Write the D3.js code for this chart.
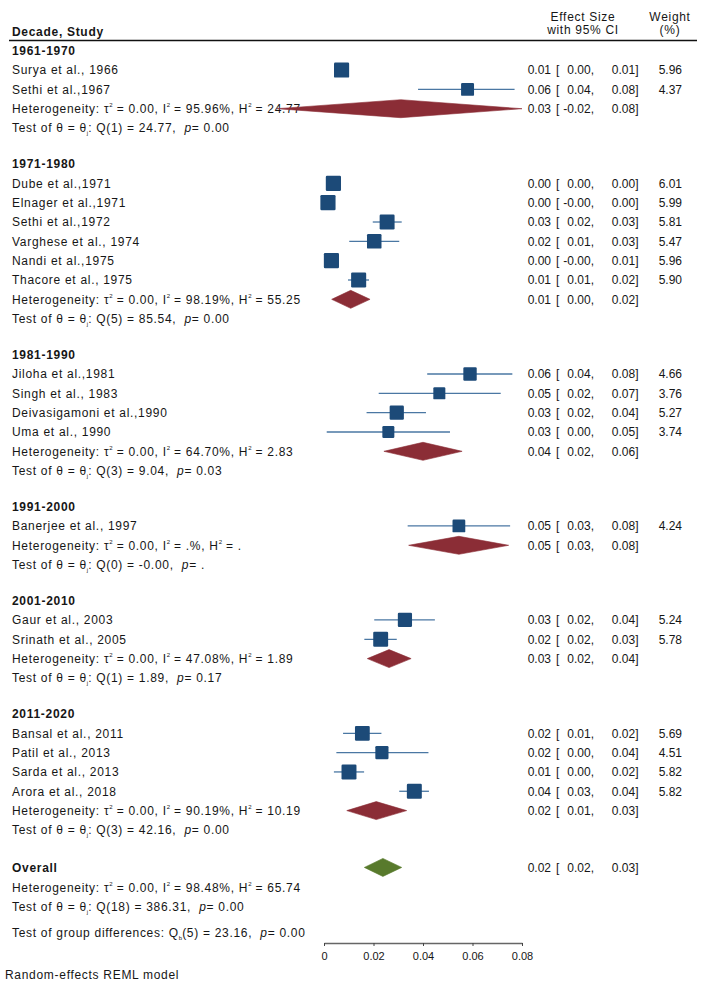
<!DOCTYPE html>
<html><head><meta charset="utf-8">
<script src="https://cdn.jsdelivr.net/npm/d3@7"></script>
<style>
body{margin:0;background:#fff}
svg{display:block}
text{font-family:"Liberation Sans",Arial,sans-serif;font-size:12px;fill:#161616;white-space:pre}
text.lbl{letter-spacing:0.7px}
</style>
</head><body>
<svg id="c" width="709" height="984"></svg>
<script>
// ---------- data ----------
const groups = ["1961-1970","1971-1980","1981-1990","1991-2000","2001-2010","2011-2020"];
const studies = ["Surya et al., 1966","Sethi et al.,1967",
  "Dube et al.,1971","Elnager et al.,1971","Sethi et al.,1972","Varghese et al., 1974","Nandi et al.,1975","Thacore et al., 1975",
  "Jiloha et al.,1981","Singh et al., 1983","Deivasigamoni et al.,1990","Uma et al., 1990",
  "Banerjee et al., 1997",
  "Gaur et al., 2003","Srinath et al., 2005",
  "Bansal et al., 2011","Patil et al., 2013","Sarda et al., 2013","Arora et al., 2018"];
const studyGroup = [0,0, 1,1,1,1,1,1, 2,2,2,2, 3, 4,4, 5,5,5,5];
const studyEst = [0.0071,0.058, 0.0038,0.0016,0.0255,0.0203,0.0030,0.0140, 0.0590,0.0466,0.0294,0.0260, 0.0545, 0.0327,0.0229, 0.0155,0.0234,0.0101,0.0365];
const studyLo  = [0.0045,0.038, 0.0020,0.0003,0.0197,0.0102,0.0015,0.0097, 0.0417,0.0221,0.0172,0.0011, 0.0338, 0.0203,0.0163, 0.0077,0.0050,0.0040,0.0304];
const studyHi  = [0.0095,0.077, 0.0055,0.0030,0.0314,0.0304,0.0045,0.0182, 0.0761,0.0714,0.0412,0.0509, 0.0752, 0.0448,0.0294, 0.0232,0.0422,0.0162,0.0424];
const studyWeight = ["5.96","4.37","6.01","5.99","5.81","5.47","5.96","5.90","4.66","3.76","5.27","3.74","4.24","5.24","5.78","5.69","4.51","5.82","5.82"];
const studyEstText = ["0.01","0.06","0.00","0.00","0.03","0.02","0.00","0.01","0.06","0.05","0.03","0.03","0.05","0.03","0.02","0.02","0.02","0.01","0.04"];
const studyLoText  = ["0.00","0.04","0.00","-0.00","0.02","0.01","-0.00","0.01","0.04","0.02","0.02","0.00","0.03","0.02","0.02","0.01","0.00","0.00","0.03"];
const studyHiText  = ["0.01","0.08","0.00","0.00","0.03","0.03","0.01","0.02","0.08","0.07","0.04","0.05","0.08","0.04","0.03","0.02","0.04","0.02","0.04"];

const groupEst = [0.031, 0.0108, 0.040, 0.0545, 0.0263, 0.0211];
const groupLo  = [-0.019, 0.0031, 0.0242, 0.0342, 0.0175, 0.0092];
const groupHi  = [0.080, 0.0186, 0.0558, 0.0746, 0.0352, 0.0334];
const groupEstText = ["0.03","0.01","0.04","0.05","0.03","0.02"];
const groupLoText  = ["-0.02","0.00","0.02","0.03","0.02","0.01"];
const groupHiText  = ["0.08","0.02","0.06","0.08","0.04","0.03"];
const groupTau2 = ["0.00","0.00","0.00","0.00","0.00","0.00"];
const groupI2   = ["95.96%","98.19%","64.70%",".%","47.08%","90.19%"];
const groupH2   = ["24.77","55.25","2.83",".","1.89","10.19"];
const groupQdf  = ["1","5","3","0","1","3"];
const groupQ    = ["24.77","85.54","9.04","-0.00","1.89","42.16"];
const groupP    = ["0.00","0.00","0.03",".","0.17","0.00"];

const overallEst = 0.0238, overallLo = 0.0163, overallHi = 0.0314;
const overallText = ["0.02","0.02","0.03"];
const overallHet = ["0.00","98.48%","65.74"];
const overallTest = ["18","386.31","0.00"];
const groupDiff = ["5","23.16","0.00"];

const ticks = [0,0.02,0.04,0.06,0.08];
const tickLabels = ["0","0.02","0.04","0.06","0.08"];

// ---------- layout ----------
const svg = d3.select("#c");
const x = d3.scaleLinear().domain([0,0.08]).range([324,522]);
const ROW = 19.33, GAP = 36, LX = 12;
const C_SQ = "#1c4a78", C_CI = "#4a77a3", C_DIA = "#8b2d36", C_OV = "#587a2c";

const gText = svg.append("g"), gMarks = svg.append("g");

function label(xx, yy, s, bold){
  const t = gText.append("text").attr("class","lbl").attr("x",xx).attr("y",yy).text(s);
  if (bold) t.style("font-weight","bold");
  return t;
}
function rich(yc, parts, xx){
  const t = gText.append("text").attr("class","lbl").attr("x", xx==null?LX:xx).attr("y", yc+4.3);
  let shift = 0;
  parts.forEach(p=>{
    const s = t.append("tspan");
    let dy = 0;
    if (p.sup){ dy = -6 - shift; shift = -6; s.style("font-size","6px").style("letter-spacing","0px").text(p.sup); }
    else if (p.sub){ dy = 3 - shift; shift = 3; s.style("font-size","6px").style("letter-spacing","0px").text(p.sub); }
    else { dy = -shift; shift = 0; s.text(p.it!=null?p.it:p.t); if(p.it!=null) s.style("font-style","italic"); }
    if (dy) s.attr("dy", dy);
  });
  return t;
}
function esCols(yc, e, lo, hi, w){
  gText.append("text").attr("x",551).attr("y",yc+4.3).attr("text-anchor","end").text(e);
  gText.append("text").attr("x",556).attr("y",yc+4.3).text("[");
  gText.append("text").attr("x",594).attr("y",yc+4.3).attr("text-anchor","end").text(lo+",");
  gText.append("text").attr("x",638.5).attr("y",yc+4.3).attr("text-anchor","end").text(hi+"]");
  if (w!=null) gText.append("text").attr("x",682).attr("y",yc+4.3).attr("text-anchor","end").text(w);
}
function diamond(yc, lo, est, hi, col){
  gMarks.append("path")
    .attr("d", `M${x(lo)},${yc}L${x(est)},${yc-9}L${x(hi)},${yc}L${x(est)},${yc+9}Z`)
    .attr("fill", col).attr("stroke", col).attr("stroke-width",0.6);
}

// header
label(LX, 36, "Decade, Study", true);
label(583, 21, "Effect Size").attr("text-anchor","middle");
label(583, 34, "with 95% CI").attr("text-anchor","middle");
label(670, 21, "Weight").attr("text-anchor","middle");
label(670, 34, "(%)").attr("text-anchor","middle");
svg.append("line").attr("x1",9).attr("x2",697).attr("y1",40.5).attr("y2",40.5).attr("stroke","#111").attr("stroke-width",1.6);

let y = 50.7;
groups.forEach((g, gi)=>{
  label(LX, y+4.3, g, true);
  studies.forEach((s, si)=>{
    if (studyGroup[si]!==gi) return;
    y += ROW;
    label(LX, y+4.3, s);
    esCols(y, studyEstText[si], studyLoText[si], studyHiText[si], studyWeight[si]);
    gMarks.append("line").attr("x1",x(studyLo[si])).attr("x2",x(studyHi[si]))
      .attr("y1",y).attr("y2",y).attr("stroke",C_CI).attr("stroke-width",1.3);
    const side = 6.2*Math.sqrt(+studyWeight[si]);
    gMarks.append("rect").attr("x",x(studyEst[si])-side/2).attr("y",y-side/2)
      .attr("width",side).attr("height",side).attr("rx",1.2).attr("fill",C_SQ);
  });
  y += ROW;
  rich(y, [{t:"Heterogeneity: τ"},{sup:"2"},{t:" = "+groupTau2[gi]+", I"},{sup:"2"},{t:" = "+groupI2[gi]+", H"},{sup:"2"},{t:" = "+groupH2[gi]}]);
  esCols(y, groupEstText[gi], groupLoText[gi], groupHiText[gi], null);
  diamond(y, groupLo[gi], groupEst[gi], groupHi[gi], C_DIA);
  y += ROW;
  rich(y, [{t:"Test of θ = θ"},{sub:"j"},{t:": Q("+groupQdf[gi]+") = "+groupQ[gi]+",  "},{it:"p"},{t:"= "+groupP[gi]}]);
  y += GAP;
});

// overall
y += 1.5;
label(LX, y+4.3, "Overall", true);
esCols(y, overallText[0], overallText[1], overallText[2], null);
diamond(y, overallLo, overallEst, overallHi, C_OV);
y += ROW + 0.5;
rich(y, [{t:"Heterogeneity: τ"},{sup:"2"},{t:" = "+overallHet[0]+", I"},{sup:"2"},{t:" = "+overallHet[1]+", H"},{sup:"2"},{t:" = "+overallHet[2]}]);
y += ROW + 0.5;
rich(y, [{t:"Test of θ = θ"},{sub:"j"},{t:": Q("+overallTest[0]+") = "+overallTest[1]+",  "},{it:"p"},{t:"= "+overallTest[2]}]);
y += 25.5;
rich(y, [{t:"Test of group differences: Q"},{sub:"b"},{t:"("+groupDiff[0]+") = "+groupDiff[1]+",  "},{it:"p"},{t:"= "+groupDiff[2]}]);

// axis
const ax = svg.append("g").attr("transform","translate(0,943)")
  .call(d3.axisBottom(x).tickValues(ticks).tickFormat((d,i)=>tickLabels[i]).tickSize(3).tickSizeOuter(0).tickPadding(6));
ax.select(".domain").attr("stroke","#666").attr("stroke-width",1.3);
ax.selectAll(".tick line").attr("stroke","#444");
ax.selectAll(".tick text").style("font-size","11px").style("font-family","'Liberation Sans',Arial,sans-serif").attr("fill","#222");

label(5, 978.5, "Random-effects REML model");
</script>
</body></html>
